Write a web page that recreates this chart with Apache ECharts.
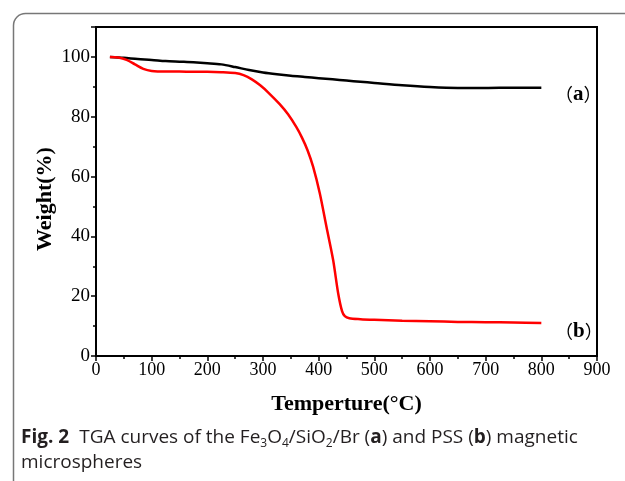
<!DOCTYPE html>
<html>
<head>
<meta charset="utf-8">
<script src="https://cdn.jsdelivr.net/npm/echarts@6/dist/echarts.min.js"></script>
<style>
html,body{margin:0;padding:0;background:#fff;}
#chart{width:625px;height:481px;}
</style>
</head>
<body>
<div id="chart"></div>
<script>
// Series (a): Fe3O4/SiO2/Br
var tempA = [25, 50, 75, 100, 125, 150, 175, 200, 225, 250, 275, 300, 325, 350, 375, 400, 425, 450, 475, 500, 550, 600, 650, 700, 750, 800];
var weightA = [100, 99.7, 99.3, 99.0, 98.6, 98.4, 98.2, 97.9, 97.5, 96.6, 95.6, 94.8, 94.2, 93.7, 93.3, 92.9, 92.5, 92.1, 91.7, 91.3, 90.5, 89.9, 89.6, 89.6, 89.7, 89.7];
// Series (b): PSS
var tempB = [25, 40, 55, 70, 85, 100, 125, 150, 175, 200, 225, 250, 265, 280, 295, 310, 330, 345, 360, 370, 380, 390, 402, 414, 426, 435, 442, 447, 455, 475, 500, 550, 600, 650, 700, 750, 800];
var weightB = [100, 99.8, 99.0, 97.5, 96.0, 95.3, 95.1, 95.1, 95.0, 95.0, 94.9, 94.6, 93.9, 92.5, 90.5, 88.0, 84.2, 80.8, 76.5, 73.0, 68.8, 63.3, 54.4, 43.2, 32.1, 21.0, 15.0, 13.3, 12.6, 12.3, 12.1, 11.8, 11.6, 11.4, 11.3, 11.2, 11.0];
var xTicks = [0, 100, 200, 300, 400, 500, 600, 700, 800, 900];
var yTicks = [0, 20, 40, 60, 80, 100];
var xName = 'Temperture(°C)';
var yName = 'Weight(%)';

function pairs(xs, ys){ return xs.map(function(x,i){ return [x, ys[i]]; }); }

var chart = echarts.init(document.getElementById('chart'), null, {renderer:'canvas'});
var serif = '"Liberation Serif", "Times New Roman", serif';
var cjk = '"Noto Sans CJK SC", sans-serif';
var axisCommon = {
  axisLine:{show:true, onZero:false, lineStyle:{color:'#000', width:2}},
  axisTick:{show:true, inside:false, length:5, lineStyle:{color:'#000', width:1.5}},
  minorTick:{show:true, splitNumber:2, length:3, lineStyle:{color:'#000', width:1.5}},
  splitLine:{show:false}
};
function parenLabel(letter){
  return {
    text:'{p|（}{l|' + letter + '}{p|）}',
    rich:{
      p:{fontFamily:cjk, fontSize:18, fill:'#000'},
      l:{fontFamily:serif, fontWeight:'bold', fontSize:21, fill:'#000'}
    }
  };
}
var capFont = '"Open Sans", sans-serif';
chart.setOption({
  animation:false,
  backgroundColor:'#fff',
  grid:{left:96, top:27, width:501, height:329, show:true, borderColor:'#000', borderWidth:2, backgroundColor:'transparent', containLabel:false},
  xAxis: Object.assign({}, axisCommon, {
    type:'value', min:0, max:900, interval:100,
    name:xName, nameLocation:'middle', nameGap:37,
    nameTextStyle:{color:'#000', fontFamily:serif, fontSize:22, fontWeight:'bold'},
    axisLabel:{color:'#000', fontFamily:serif, fontSize:18, margin:5, formatter:function(v){ return xTicks.indexOf(v)>=0 ? String(v) : ''; }}
  }),
  yAxis: Object.assign({}, axisCommon, {
    type:'value', min:0, max:110, interval:20,
    axisLabel:{color:'#000', fontFamily:serif, fontSize:19, margin:6, formatter:function(v){ return yTicks.indexOf(v)>=0 ? String(v) : ''; }}
  }),
  series:[
    {type:'line', data:pairs(tempA, weightA), smooth:0.3, showSymbol:false, lineStyle:{color:'#000', width:2.5}, z:3},
    {type:'line', data:pairs(tempB, weightB), smooth:0.3, showSymbol:false, lineStyle:{color:'#ff0000', width:2.5}, z:4}
  ],
  graphic:[
    {type:'rect', left:11, top:11, shape:{x:0, y:0, width:700, height:600, r:12}, style:{fill:'none', stroke:'#777', lineWidth:1.5}, silent:true, z:-1},
    {type:'text', x:45, y:199, rotation:Math.PI/2, style:{text:yName, font:'bold 22px ' + serif, fill:'#000', align:'center', verticalAlign:'middle'}},
    {type:'text', left:555, top:84, style:parenLabel('a')},
    {type:'text', left:555, top:321, style:parenLabel('b')},
    {type:'text', left:21, top:428, style:{
      text:'{b|Fig. 2}   {n|TGA curves of the Fe}{s|3}{n|O}{s|4}{n|/SiO}{s|2}{n|/Br (}{b|a}{n|) and PSS (}{b|b}{n|) magnetic}\n{n|microspheres}',
      rich:{
        b:{fontFamily:capFont, fontWeight:'bold', fontSize:19, fill:'#231f20', lineHeight:25},
        n:{fontFamily:capFont, fontSize:19, fill:'#231f20', lineHeight:25},
        s:{fontFamily:capFont, fontSize:12, fill:'#231f20', lineHeight:25, verticalAlign:'bottom', padding:[8,0,0,0]}
      }
    }}
  ]
});
</script>
</body>
</html>
